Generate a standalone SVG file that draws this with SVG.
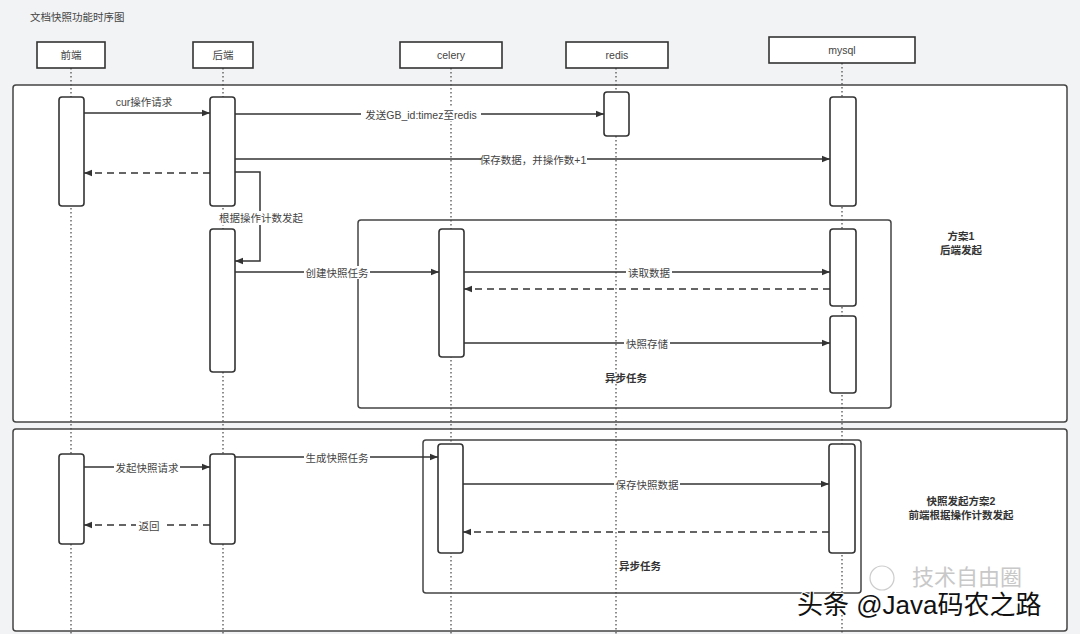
<svg xmlns="http://www.w3.org/2000/svg" width="1080" height="634" viewBox="0 0 1080 634">
<defs>
<style>
text{font-family:"Liberation Sans","Noto Sans CJK SC",sans-serif;font-size:10.5px;fill:#444;}
.c{text-anchor:middle;dominant-baseline:central;}
.bg{fill:#fff;stroke:none;}
.hd{fill:#fff;stroke:#333;stroke-width:1.6;}
.act{fill:#fff;stroke:#333;stroke-width:1.6;}
.frame{fill:#fff;stroke:#444;stroke-width:1.5;}
.iframe{fill:none;stroke:#444;stroke-width:1.5;}
.life{stroke:#444;stroke-width:1.2;stroke-dasharray:1.5 2.5;fill:none;}
.msg{stroke:#333;stroke-width:1.5;fill:none;}
.ret{stroke:#333;stroke-width:1.5;fill:none;stroke-dasharray:7 5;}
.note{font-weight:bold;fill:#333;}
</style>
<marker id="ah" viewBox="0 0 10 10" refX="10" refY="5" markerWidth="11" markerHeight="8" markerUnits="userSpaceOnUse" orient="auto">
<path d="M0,1 L10,5 L0,9 z" fill="#333"/>
</marker>
</defs>
<rect width="1080" height="634" fill="#f2f3f4"/>
<text x="30" y="17" style="dominant-baseline:central">文档快照功能时序图</text>

<g id="frames">
<rect class="frame" x="13" y="85" width="1054" height="337" rx="3"/>
<rect class="frame" x="13" y="429" width="1054" height="202" rx="3"/>
</g>

<g id="lifelines">
<line class="life" x1="71" y1="68" x2="71" y2="634"/>
<line class="life" x1="223" y1="68" x2="223" y2="634"/>
<line class="life" x1="451" y1="68" x2="451" y2="634"/>
<line class="life" x1="616" y1="68" x2="616" y2="634"/>
<line class="life" x1="842" y1="63" x2="842" y2="634"/>
</g>

<g id="inner-frames">
<rect class="iframe" x="358" y="220" width="533" height="188" rx="3"/>
<rect class="iframe" x="423" y="440" width="438" height="153" rx="3"/>
</g>

<g id="frontend">
<rect class="hd" x="37" y="42" width="68" height="26"/>
<text class="c" x="71" y="55">前端</text>
<rect class="act" x="59" y="97" width="25" height="109" rx="3"/>
<rect class="act" x="59" y="454" width="25" height="90" rx="3"/>
</g>
<g id="backend">
<rect class="hd" x="193" y="42" width="60" height="26"/>
<text class="c" x="223" y="55">后端</text>
<rect class="act" x="210" y="97" width="25" height="109" rx="3"/>
<rect class="act" x="210" y="229" width="25" height="143" rx="3"/>
<rect class="act" x="210" y="454" width="25" height="90" rx="3"/>
</g>
<g id="celery">
<rect class="hd" x="400" y="42" width="102" height="26"/>
<text class="c" x="451" y="55">celery</text>
<rect class="act" x="439" y="229" width="25" height="128" rx="3"/>
<rect class="act" x="438" y="444" width="25" height="109" rx="3"/>
</g>
<g id="redis">
<rect class="hd" x="566" y="42" width="102" height="26"/>
<text class="c" x="617" y="55">redis</text>
<rect class="act" x="604" y="92" width="25" height="44" rx="3"/>
</g>
<g id="mysql">
<rect class="hd" x="769" y="37" width="146" height="26"/>
<text class="c" x="842" y="50">mysql</text>
<rect class="act" x="830" y="97" width="26" height="109" rx="3"/>
<rect class="act" x="830" y="229" width="26" height="77" rx="3"/>
<rect class="act" x="830" y="316" width="26" height="77" rx="3"/>
<rect class="act" x="829" y="444" width="26" height="109" rx="3"/>
</g>

<g id="connectors">
<line class="msg" x1="84" y1="113" x2="210" y2="113" marker-end="url(#ah)"/>
<text class="c" x="144" y="102">cur操作请求</text>

<line class="msg" x1="235" y1="114" x2="604" y2="114" marker-end="url(#ah)"/>
<rect class="bg" x="361" y="108" width="120" height="13"/>
<text class="c" x="421" y="115">发送GB_id:timez至redis</text>

<line class="msg" x1="235" y1="159" x2="830" y2="159" marker-end="url(#ah)"/>
<rect class="bg" x="481" y="152" width="106" height="14"/>
<text class="c" x="533" y="160">保存数据，并操作数+1</text>

<line class="ret" x1="210" y1="173" x2="84" y2="173" marker-end="url(#ah)"/>
<path class="msg" d="M235,172 H260 V261 H235" marker-end="url(#ah)"/>
<rect class="bg" x="218" y="211" width="86" height="14"/>
<text class="c" x="261" y="218">根据操作计数发起</text>

<line class="msg" x1="235" y1="272" x2="439" y2="272" marker-end="url(#ah)"/>
<rect class="bg" x="304" y="266" width="66" height="13"/>
<text class="c" x="337" y="273">创建快照任务</text>

<line class="msg" x1="464" y1="272" x2="830" y2="272" marker-end="url(#ah)"/>
<rect class="bg" x="626" y="266" width="46" height="13"/>
<text class="c" x="649" y="273">读取数据</text>

<line class="ret" x1="830" y1="289" x2="464" y2="289" marker-end="url(#ah)"/>

<line class="msg" x1="464" y1="343" x2="830" y2="343" marker-end="url(#ah)"/>
<rect class="bg" x="624" y="337" width="46" height="13"/>
<text class="c" x="647" y="344">快照存储</text>

<line class="msg" x1="84" y1="467" x2="210" y2="467" marker-end="url(#ah)"/>
<rect class="bg" x="114" y="461" width="66" height="13"/>
<text class="c" x="147" y="468">发起快照请求</text>

<line class="msg" x1="235" y1="457" x2="438" y2="457" marker-end="url(#ah)"/>
<rect class="bg" x="304" y="451" width="66" height="13"/>
<text class="c" x="337" y="458">生成快照任务</text>

<line class="ret" x1="210" y1="525" x2="84" y2="525" marker-end="url(#ah)"/>
<rect class="bg" x="136" y="519" width="26" height="13"/>
<text class="c" x="149" y="526">返回</text>

<line class="msg" x1="463" y1="484" x2="829" y2="484" marker-end="url(#ah)"/>
<rect class="bg" x="614" y="478" width="66" height="13"/>
<text class="c" x="647" y="485">保存快照数据</text>

<line class="ret" x1="829" y1="532" x2="463" y2="532" marker-end="url(#ah)"/>
</g>

<g id="notes">
<text class="c note" x="626" y="378">异步任务</text>
<text class="c note" x="961" y="236">方案1</text>
<text class="c note" x="961" y="250">后端发起</text>
<text class="c note" x="640" y="566">异步任务</text>
<text class="c note" x="961" y="501">快照发起方案2</text>
<text class="c note" x="961" y="515">前端根据操作计数发起</text>
</g>

<g id="watermark">
<circle cx="882" cy="578" r="12" fill="none" stroke="#ccc" stroke-width="1.2"/>
<text x="912" y="585" style="font-size:22px;fill:#c8c8c8">技术自由圈</text>
<text x="797" y="614" style="font-size:26px;fill:#111;paint-order:stroke;stroke:#fff;stroke-width:2px">头条 @Java码农之路</text>
</g>
</svg>
